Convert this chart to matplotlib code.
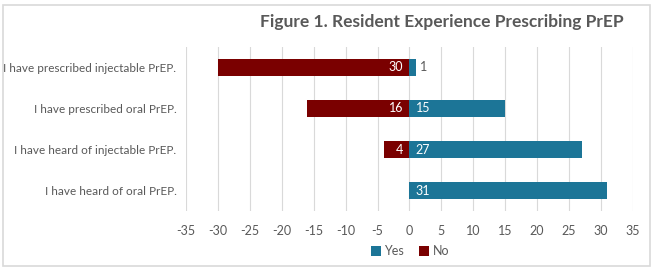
import matplotlib.pyplot as plt
from matplotlib.patches import Rectangle

categories = [
    "I have prescribed injectable PrEP.",
    "I have prescribed oral PrEP.",
    "I have heard of injectable PrEP.",
    "I have heard of oral PrEP.",
]
yes_counts = [1, 15, 27, 31]
no_counts = [30, 16, 4, 0]
ticks = list(range(-35, 40, 5))

blue = "#1C7597"
red = "#7A0000"
gray = "#595959"

plt.rcParams["font.family"] = ["Lato", "DejaVu Sans"]

fig = plt.figure(figsize=(6.53, 2.71), dpi=100)
ax = fig.add_axes([0.285, 0.221, 0.684, 0.606])

ypos = list(range(len(categories)))[::-1]
ax.barh(ypos, yes_counts, height=0.41, color=blue, label="Yes", zorder=3)
neg = [-v for v in no_counts]
ax.barh(ypos, neg, height=0.41, color=red, label="No", zorder=3)

for y, v in zip(ypos, yes_counts):
    if v >= 3:
        ax.text(1.0, y, str(v), color="white", va="center", ha="left", fontsize=9, zorder=4)
    elif v > 0:
        ax.text(v + 0.6, y, str(v), color=gray, va="center", ha="left", fontsize=9, zorder=4)
for y, v in zip(ypos, no_counts):
    if v > 0:
        ax.text(-1.0, y, str(v), color="white", va="center", ha="right", fontsize=9, zorder=4)

ax.set_xlim(-35, 35)
ax.set_ylim(-0.5, 3.5)
ax.set_xticks(ticks)
ax.set_xticklabels([str(t) for t in ticks], color=gray, fontsize=9)
ax.set_yticks(ypos)
ax.set_yticklabels(categories, color=gray, fontsize=8.5)
ax.tick_params(axis="x", length=0, pad=10)
ax.tick_params(axis="y", length=0, pad=7)
ax.grid(axis="x", color="#D9D9D9", linewidth=0.8, zorder=0)
for s in ax.spines.values():
    s.set_visible(False)

fig.text(0.677, 0.917, "Figure 1. Resident Experience Prescribing PrEP",
         ha="center", va="center", fontsize=12.5, fontweight="bold", color=gray)

handles, labels = ax.get_legend_handles_labels()
fig.legend(handles, labels, loc="center", bbox_to_anchor=(0.628, 0.072), ncol=2,
           frameon=False, fontsize=9, handlelength=0.8, handleheight=0.8,
           handletextpad=0.3, columnspacing=1.2, labelcolor=gray)

fig.patches.append(Rectangle((0.004, 0.02), 0.992, 0.96, transform=fig.transFigure,
                             fill=False, edgecolor="#D9D9D9", linewidth=1.2))

fig.savefig("out.png", dpi=100)
